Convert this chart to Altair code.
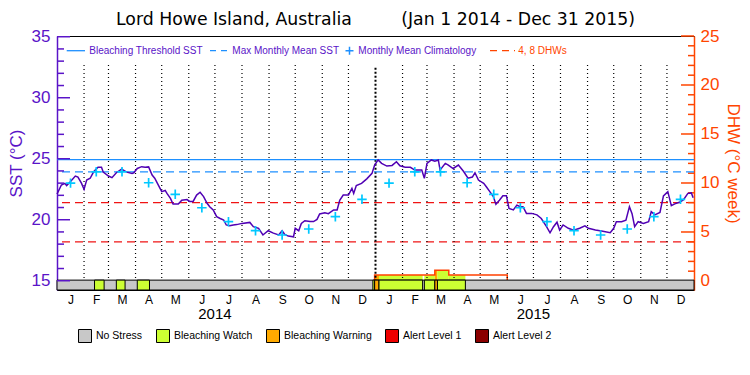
import calendar
import altair as alt
import pandas as pd

# ---------------- data ----------------
TITLE_LEFT = "Lord Howe Island, Australia"
TITLE_RIGHT = "(Jan 1 2014 - Dec 31 2015)"
YEARS = [2014, 2015]
MONTH_LETTERS = ["J", "F", "M", "A", "M", "J", "J", "A", "S", "O", "N", "D"]

# daily SST (days since 2014-01-01, degC)
SST_DAY = [0, 5, 9, 11, 15, 21, 24, 28, 31, 34, 38, 42, 47, 51, 53, 59, 63, 68, 74, 80,
           86, 88, 92, 97, 101, 105, 109, 112, 116, 120, 124, 126, 130, 133, 139, 143, 149, 152, 156, 160,
           164, 168, 172, 175, 179, 183, 187, 191, 194, 198, 202, 206, 212, 221, 225, 231, 236, 242, 248, 254,
           258, 261, 265, 271, 273, 277, 280, 284, 290, 294, 298, 301, 307, 311, 317, 321, 324, 328, 334, 338,
           340, 343, 349, 355, 361, 364, 368, 372, 378, 384, 389, 393, 399, 405, 410, 418, 421, 424, 429, 433,
           437, 439, 445, 448, 454, 460, 466, 471, 476, 479, 483, 489, 492, 496, 500, 503, 507, 511, 515, 518,
           523, 527, 531, 534, 538, 544, 550, 555, 561, 565, 569, 573, 576, 580, 586, 592, 599, 605, 609, 617,
           624, 634, 638, 641, 647, 652, 656, 659, 662, 666, 672, 678, 681, 685, 691, 695, 700, 704, 708, 714,
           718, 723, 727, 729]
SST_VAL = [22.1, 22.85, 22.98, 22.8, 23.1, 23.58, 23.5, 23.0, 22.49, 23.25, 23.4, 23.93, 24.3, 24.3, 23.9, 23.58, 23.45, 23.85, 24.15, 23.9,
           23.8, 23.85, 24.2, 24.35, 24.3, 24.33, 23.66, 23.4, 22.85, 22.3, 22.4, 22.16, 21.75, 21.29, 21.29, 21.6, 21.65, 21.5, 21.5, 22.02,
           22.25, 21.9, 21.35, 21.07, 20.8, 20.25, 20.1, 19.98, 19.57, 19.5, 19.57, 19.6, 19.7, 19.78, 19.43, 19.3, 18.75, 19.1, 18.9, 18.75,
           19.1, 18.8, 18.66, 18.6, 19.3, 19.1, 19.7, 19.92, 19.85, 19.85, 20.03, 20.47, 20.57, 20.5, 20.8, 20.8, 21.6, 22.02, 22.02, 22.57,
           22.16, 22.8, 22.98, 23.35, 23.8, 24.48, 24.9, 24.62, 24.4, 24.45, 24.75, 24.42, 24.3, 24.3, 24.07, 24.07, 23.4, 24.62, 24.9, 24.8,
           24.9, 24.07, 24.62, 24.5, 24.2, 24.48, 23.95, 23.4, 23.5, 23.85, 23.25, 22.98, 22.7, 22.3, 21.9, 21.26, 21.6, 21.97, 21.97, 20.93,
           20.8, 21.2, 21.07, 21.07, 20.52, 20.52, 20.4, 20.1, 19.43, 18.93, 19.43, 19.8, 19.15, 19.57, 19.3, 19.15, 19.3, 19.5, 19.3, 19.15,
           19.07, 18.93, 19.3, 19.84, 19.84, 19.97, 21.07, 20.5, 19.43, 19.84, 19.7, 19.84, 20.66, 20.4, 20.6, 21.95, 22.3, 21.15, 21.3, 21.45,
           21.65, 22.16, 22.2, 21.8]
assert len(SST_DAY) == len(SST_VAL)

# monthly mean climatology (Jan..Dec), same each year
CLIM = [23.0, 23.93, 23.93, 23.03, 22.08, 20.98, 19.84, 19.1, 18.75, 19.24, 20.25, 21.67]
MMM = 23.93
THRESHOLD = 24.93
DHW_LINES = [4, 8]

# stress bar segments (days)
STRESS_START = [0, 43, 68, 92, 362, 364, 369, 421, 433, 436]
STRESS_END = [730, 54, 78, 106, 364, 369, 419, 433, 436, 468]
STRESS_LEVEL = ["No Stress", "Bleaching Watch", "Bleaching Watch", "Bleaching Watch", "Bleaching Watch",
                "Bleaching Warning", "Bleaching Watch", "Bleaching Watch", "Bleaching Warning", "Bleaching Watch"]

# DHW (degC week)
DHW_FILL_START = [364, 369, 421, 433, 436, 449]
DHW_FILL_END = [369, 419, 433, 436, 449, 468]
DHW_FILL_VAL = [0.6, 0.6, 0.6, 1.1, 1.1, 0.6]
DHW_FILL_LEVEL = ["Bleaching Warning", "Bleaching Watch", "Bleaching Watch",
                  "Bleaching Warning", "Bleaching Watch", "Bleaching Watch"]
DHW_STEP_DAY = [364, 364, 433, 449, 516]
DHW_STEP_VAL = [0, 0.6, 1.1, 0.6, 0]

LEVELS = ["No Stress", "Bleaching Watch", "Bleaching Warning", "Alert Level 1", "Alert Level 2"]
LEVEL_COLORS = ["#C8C8C8", "#CCFF33", "#FFAA00", "#EE0000", "#8B0000"]

SST_TICKS = [15, 20, 25, 30, 35]
SST_MINOR = [v for v in range(15, 36) if v % 5]
DHW_TICKS = [0, 5, 10, 15, 20, 25]
DHW_MINOR = [v for v in range(0, 26) if v % 5]
LEGEND_LABELS = ["Bleaching Threshold SST", "Max Monthly Mean SST", "Monthly Mean Climatology", "4, 8 DHWs"]

# ---------------- styling / layout ----------------
W, H = 637, 254
SST_DOM = [14.24, 35.06]
DHW_DOM = [-0.92, 25.0]
BAR_TOP = 15.05
RULE_TOP = 32.68
YEAR_RULE_TOP = 32.45

PURPLE = "#5A14C8"
LINE_PURPLE = "#5000B4"
BLUE = "#1E90FF"
CYAN = "#00C8FF"
RED = "#F01414"
ORANGE = "#FF4500"
FONT = "Liberation Sans"
CROSS = "M-1,0L1,0M0,-1L0,1"

cum = [0]
for yr in YEARS:
    for m in range(1, 13):
        cum.append(cum[-1] + calendar.monthrange(yr, m)[1])
mids = [(cum[i] + cum[i + 1]) / 2 for i in range(24)]
year_start = cum[12]
month_rule_days = [d for d in cum[1:-1] if d != year_start]
year_label_days = [cum[6], cum[18]]

xs = alt.Scale(domain=[0, cum[-1]], nice=False, zero=False)
ys = alt.Scale(domain=SST_DOM, nice=False, zero=False)
yd = alt.Scale(domain=DHW_DOM, nice=False, zero=False)
cscale = alt.Scale(domain=LEVELS, range=LEVEL_COLORS)

labels_js = "[" + ",".join("'%s'" % c for c in MONTH_LETTERS * 2) + "]"
mids_js = "[" + ",".join(repr(float(v)) for v in mids) + "]"
x_axis = alt.Axis(values=mids, labelExpr=f"{labels_js}[indexof({mids_js}, datum.value)]",
                  ticks=False, domain=False, grid=False, title=None, labelFont=FONT,
                  labelFontSize=12, labelColor="black", labelPadding=4, labelOverlap=False,
                  labelFlush=False)
left_axis = alt.Axis(orient="left", values=SST_TICKS, ticks=False, grid=False,
                     domainColor=PURPLE, domainWidth=1.5, labelColor=PURPLE, labelFont=FONT,
                     labelFontSize=17, labelPadding=7, title="SST (°C)", titleColor=PURPLE,
                     titleFont=FONT, titleFontSize=17, titleFontWeight="normal", titlePadding=6)
right_axis = alt.Axis(orient="right", values=DHW_TICKS, ticks=False, grid=False,
                      domainColor=ORANGE, domainWidth=1.5, labelColor=ORANGE, labelFont=FONT,
                      labelFontSize=17, labelPadding=6, title="DHW (°C week)", titleColor=ORANGE,
                      titleFont=FONT, titleFontSize=17, titleFontWeight="normal", titlePadding=5)
stress_legend = alt.Legend(
    orient="none", legendX=21, legendY=293, direction="horizontal", columns=5, title=None,
    gridAlign="none", symbolType="square", symbolSize=169, symbolStrokeColor="black",
    symbolStrokeWidth=1, symbolOpacity=1, labelFont=FONT, labelFontSize=10.5, labelColor="black",
    columnPadding=11, labelOffset=4, padding=0)


def xq(field):
    return alt.X(field, type="quantitative", scale=xs, axis=x_axis)


def ysst(field):
    return alt.Y(field, type="quantitative", scale=ys, axis=left_axis)


def ysst_datum(v):
    return alt.YDatum(v, type="quantitative", scale=ys, axis=left_axis)


def ydhw(field):
    return alt.Y(field, type="quantitative", scale=yd, axis=right_axis)


one = pd.DataFrame({"k": [0]})

sst_df = pd.DataFrame({"day": SST_DAY, "sst": SST_VAL})
clim_df = pd.DataFrame({"day": mids, "sst": CLIM * len(YEARS)})
stress_df = pd.DataFrame({"start": STRESS_START, "end": STRESS_END, "level": STRESS_LEVEL})
fill_df = pd.DataFrame({"start": DHW_FILL_START, "end": DHW_FILL_END, "dhw": DHW_FILL_VAL, "level": DHW_FILL_LEVEL})
step_df = pd.DataFrame({"day": DHW_STEP_DAY, "dhw": DHW_STEP_VAL})

# ---------------- SST group ----------------
bar = alt.Chart(stress_df).mark_rect(stroke="black", strokeWidth=1).encode(
    x=xq("start"), x2="end",
    y=ysst_datum(SST_DOM[0]), y2=alt.Y2Datum(BAR_TOP),
    color=alt.Color("level:N", scale=cscale, legend=stress_legend),
)
month_rules = alt.Chart(pd.DataFrame({"day": month_rule_days})).mark_rule(
    color="black", strokeDash=[1, 3], strokeWidth=1.2).encode(
    x=xq("day"), y=ysst_datum(RULE_TOP), y2=alt.Y2Datum(BAR_TOP))
year_rule = alt.Chart(pd.DataFrame({"day": [year_start]})).mark_rule(
    color="black", strokeDash=[2, 2], strokeWidth=2).encode(
    x=xq("day"), y=ysst_datum(YEAR_RULE_TOP), y2=alt.Y2Datum(BAR_TOP))
thr = alt.Chart(pd.DataFrame({"v": [THRESHOLD]})).mark_rule(color=BLUE, strokeWidth=1.3).encode(
    y=ysst("v"))
mmm = alt.Chart(pd.DataFrame({"v": [MMM]})).mark_rule(color=BLUE, strokeWidth=1.3, strokeDash=[8, 5]).encode(
    y=ysst("v"))
sst_line = alt.Chart(sst_df).mark_line(color=LINE_PURPLE, strokeWidth=1.5).encode(
    x=xq("day"), y=ysst("sst"))
clim = alt.Chart(clim_df).mark_point(shape=CROSS, size=90, filled=False, color=CYAN, strokeWidth=1.7, opacity=1).encode(
    x=xq("day"), y=ysst("sst"))
lt_major = alt.Chart(pd.DataFrame({"v": SST_TICKS})).mark_rule(color=PURPLE, strokeWidth=1.5).encode(
    y=ysst("v"), x=alt.value(0), x2=alt.value(13))
lt_minor = alt.Chart(pd.DataFrame({"v": SST_MINOR})).mark_rule(color=PURPLE, strokeWidth=1.5).encode(
    y=ysst("v"), x=alt.value(0), x2=alt.value(7))
year_labels = alt.Chart(pd.DataFrame({"day": year_label_days, "label": [str(y) for y in YEARS]})).mark_text(
    font=FONT, fontSize=15, color="black", baseline="middle", align="center").encode(
    x=xq("day"), y=alt.value(278), text="label:N")
title = alt.Chart(one).mark_text(
    text=TITLE_LEFT + "\u00a0" * 9 + TITLE_RIGHT, font="DejaVu Sans", fontSize=17.3,
    color="black", align="center", baseline="middle").encode(x=alt.value(W / 2), y=alt.value(-16))

LEG_Y = 14.7
LEG_FS = 10
leg = [
    alt.Chart(one).mark_rule(color=BLUE, strokeWidth=1.3).encode(x=alt.value(9.7), x2=alt.value(28), y=alt.value(LEG_Y)),
    alt.Chart(one).mark_text(text=LEGEND_LABELS[0], font=FONT, fontSize=LEG_FS, color=PURPLE, align="left",
                             baseline="middle").encode(x=alt.value(32.3), y=alt.value(LEG_Y)),
    alt.Chart(one).mark_rule(color=BLUE, strokeWidth=1.3, strokeDash=[6, 5]).encode(x=alt.value(153), x2=alt.value(170), y=alt.value(LEG_Y)),
    alt.Chart(one).mark_text(text=LEGEND_LABELS[1], font=FONT, fontSize=LEG_FS, color=PURPLE, align="left",
                             baseline="middle").encode(x=alt.value(175.3), y=alt.value(LEG_Y)),
    alt.Chart(one).mark_point(shape=CROSS, size=64, filled=False, color=BLUE, strokeWidth=1.5, opacity=1).encode(
        x=alt.value(292.5), y=alt.value(LEG_Y)),
    alt.Chart(one).mark_text(text=LEGEND_LABELS[2], font=FONT, fontSize=LEG_FS, color=PURPLE, align="left",
                             baseline="middle").encode(x=alt.value(301.3), y=alt.value(LEG_Y)),
    alt.Chart(one).mark_rule(color=ORANGE, strokeWidth=1.3, strokeDash=[7, 5]).encode(x=alt.value(433), x2=alt.value(458), y=alt.value(LEG_Y)),
    alt.Chart(one).mark_text(text=LEGEND_LABELS[3], font=FONT, fontSize=LEG_FS, color=ORANGE, align="left",
                             baseline="middle").encode(x=alt.value(461.3), y=alt.value(LEG_Y)),
]

sst_group = alt.layer(bar, month_rules, year_rule, thr, mmm, sst_line, clim, lt_major, lt_minor,
                      year_labels, title, *leg)

# ---------------- DHW group ----------------
dhw_rules = alt.Chart(pd.DataFrame({"v": DHW_LINES})).mark_rule(color=RED, strokeWidth=1.3, strokeDash=[8, 5]).encode(
    y=ydhw("v"))
dhw_fill = alt.Chart(fill_df).mark_rect().encode(
    x=xq("start"), x2="end", y=ydhw("dhw"), y2=alt.Y2Datum(0),
    color=alt.Color("level:N", scale=cscale, legend=stress_legend))
dhw_step = alt.Chart(step_df).mark_line(interpolate="step-after", color="#FF4000", strokeWidth=1.5).encode(
    x=xq("day"), y=ydhw("dhw"))
rt_major = alt.Chart(pd.DataFrame({"v": DHW_TICKS})).mark_rule(color=ORANGE, strokeWidth=1.5).encode(
    y=ydhw("v"), x=alt.value(W - 13), x2=alt.value(W))
rt_minor = alt.Chart(pd.DataFrame({"v": DHW_MINOR})).mark_rule(color=ORANGE, strokeWidth=1.5).encode(
    y=ydhw("v"), x=alt.value(W - 6), x2=alt.value(W))

dhw_group = alt.layer(dhw_rules, dhw_fill, dhw_step, rt_major, rt_minor)

chart = alt.layer(dhw_group, sst_group).resolve_scale(y="independent").properties(
    width=W, height=H,
    autosize=alt.AutoSizeParams(type="none"),
    padding={"left": 49, "top": 28, "right": 48, "bottom": 75},
).configure_view(stroke="black", strokeWidth=1)

chart.save("out.html", embed_options={"renderer": "svg", "actions": False})
